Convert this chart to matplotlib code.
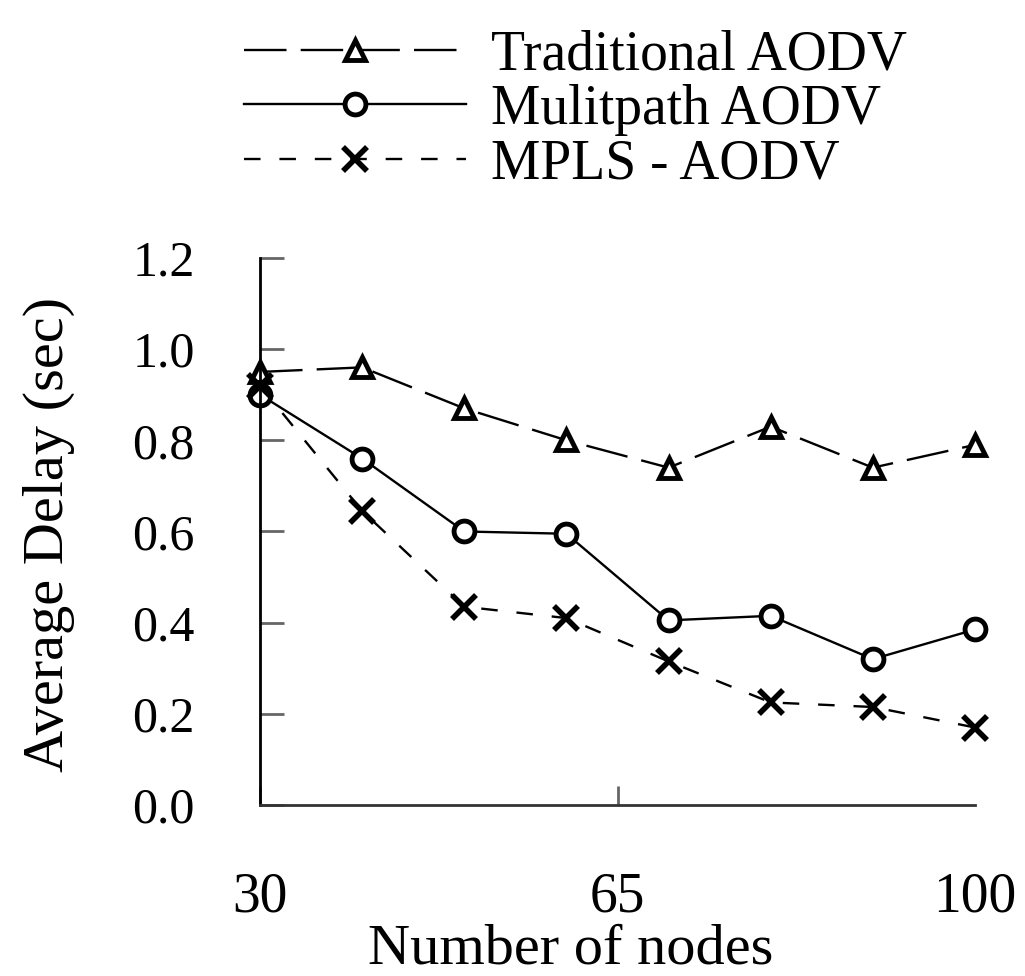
import matplotlib
matplotlib.use("Agg")
import matplotlib.pyplot as plt

nodes = [30, 40, 50, 60, 70, 80, 90, 100]
traditional = [0.95, 0.96, 0.87, 0.80, 0.74, 0.83, 0.74, 0.79]
multipath = [0.90, 0.76, 0.60, 0.595, 0.405, 0.415, 0.32, 0.385]
mpls = [0.92, 0.645, 0.435, 0.41, 0.315, 0.225, 0.215, 0.17]

xticks = [30, 65, 100]
yticks = [0.0, 0.2, 0.4, 0.6, 0.8, 1.0, 1.2]

plt.rcParams['font.family'] = ['Liberation Serif', 'DejaVu Serif']

fig = plt.figure(figsize=(10.25, 9.76), dpi=100)
ax = fig.add_axes([0.2537, 0.1752, 0.6975, 0.5605])

ax.plot(nodes, traditional, color='black', lw=1.7, ls=(0, (18, 6)), marker='^',
        ms=15, mfc='white', mec='black', mew=3.5, label='Traditional AODV', clip_on=False)
ax.plot(nodes, multipath, color='black', lw=1.7, ls='-', marker='o',
        ms=15, mfc='white', mec='black', mew=3.5, label='Mulitpath AODV', clip_on=False)
ax.plot(nodes, mpls, color='black', lw=1.7, ls=(0, (7, 8)), marker='x',
        ms=17, mec='black', mew=4, label='MPLS - AODV', clip_on=False)

ax.set_xlim(30, 100)
ax.set_ylim(0, 1.2)
ax.set_xticks(xticks)
ax.set_yticks(yticks)
ax.set_yticklabels(['%.1f' % v for v in yticks])
ax.spines['top'].set_visible(False)
ax.spines['right'].set_visible(False)
ax.spines['left'].set_linewidth(2)
ax.spines['bottom'].set_linewidth(2)
ax.spines['bottom'].set_color('#333333')
ax.tick_params(direction='in', width=2, color='#666666')
ax.tick_params(axis='x', length=14, labelsize=40, pad=48)
ax.tick_params(axis='y', length=17, labelsize=36, pad=47)
ax.xaxis.get_major_ticks()[-1].tick1line.set_visible(False)

ax.set_xlabel('Number of nodes', fontsize=42, va='baseline')
ax.xaxis.set_label_coords(0.435, -0.29)
ax.set_ylabel('Average Delay (sec)', fontsize=42, va='center')
ax.yaxis.set_label_coords(-0.295, 0.495)

fig.legend(loc='upper left', bbox_to_anchor=(0.2, 1.01), frameon=False,
           fontsize=40, handlelength=4.0, handletextpad=0.45, labelspacing=0.05,
           borderpad=0.2)

fig.savefig('out.png', dpi=100)
